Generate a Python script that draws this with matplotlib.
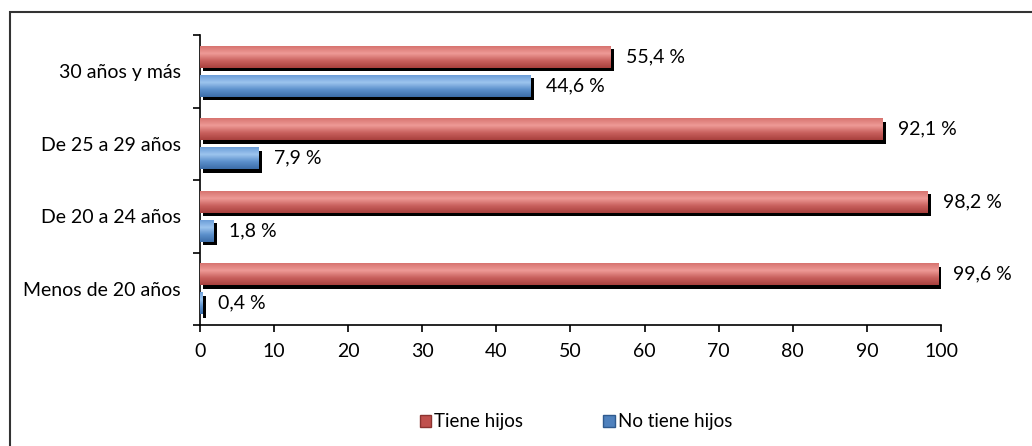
import numpy as np
import matplotlib.pyplot as plt
import matplotlib.patheffects as pe
from matplotlib.patches import Rectangle, Patch
from matplotlib.colors import LinearSegmentedColormap

plt.rcParams['font.family'] = ['Lato', 'DejaVu Sans']

categorias = ["Menos de 20 años", "De 20 a 24 años", "De 25 a 29 años", "30 años y más"]
tiene_hijos = [99.6, 98.2, 92.1, 55.4]
no_tiene_hijos = [0.4, 1.8, 7.9, 44.6]
xticks = [0, 10, 20, 30, 40, 50, 60, 70, 80, 90, 100]

rojo = "#C0504D"
azul = "#4F81BD"
cmap_rojo = LinearSegmentedColormap.from_list("r", ["#A8403D", "#C9615E", "#EE9A96", "#D77470"])
cmap_azul = LinearSegmentedColormap.from_list("b", ["#3C6DA8", "#5B8FCB", "#9CC4EE", "#6C9ED8"])

fig = plt.figure(figsize=(10.32, 4.46), dpi=100)
ax = fig.add_axes([0.1938, 0.2713, 0.7180, 0.6502])

y = np.arange(len(categorias))
h = 0.30
sombra = [pe.SimplePatchShadow(offset=(2.5, -2.5), shadow_rgbFace="black", alpha=1.0), pe.Normal()]

b1 = ax.barh(y + 0.2, tiene_hijos, height=h, color=rojo, path_effects=sombra, zorder=2)
b2 = ax.barh(y - 0.2, no_tiene_hijos, height=h, color=azul, path_effects=sombra, zorder=2)

# vertical gradient inside every bar (glossy look)
grad = np.linspace(0, 1, 64).reshape(-1, 1)
for bars, cm in [(b1, cmap_rojo), (b2, cmap_azul)]:
    for bar in bars:
        x0, y0, w, hh = bar.get_x(), bar.get_y(), bar.get_width(), bar.get_height()
        im = ax.imshow(grad, cmap=cm, aspect="auto", origin="lower",
                       extent=(x0, x0 + w, y0, y0 + hh), zorder=3)
        im.set_clip_path(bar)

for i in range(len(categorias)):
    ax.annotate(f"{tiene_hijos[i]:.1f} %".replace(".", ","), (tiene_hijos[i], y[i] + 0.2),
                xytext=(11, 0), textcoords="offset points", va="center", ha="left", fontsize=14)
    ax.annotate(f"{no_tiene_hijos[i]:.1f} %".replace(".", ","), (no_tiene_hijos[i], y[i] - 0.2),
                xytext=(11, 0), textcoords="offset points", va="center", ha="left", fontsize=14)

ax.set_xlim(0, 100)
ax.set_ylim(-0.5, len(categorias) - 0.5)
ax.set_xticks(xticks)
ax.tick_params(axis="x", labelsize=14, direction="out", length=5, width=1.2, pad=8)
ax.set_yticks(np.arange(len(categorias) + 1) - 0.5)
ax.set_yticklabels([])
ax.set_yticks(y, minor=True)
ax.set_yticklabels(categorias, minor=True, fontsize=14)
ax.tick_params(axis="y", which="major", direction="out", length=5, width=1.2)
ax.tick_params(axis="y", which="minor", length=0, pad=14)
for s in ["top", "right"]:
    ax.spines[s].set_visible(False)
ax.spines["left"].set_linewidth(1.2)
ax.spines["bottom"].set_linewidth(1.2)

handles = [Patch(facecolor=rojo, edgecolor="#8B3330"), Patch(facecolor=azul, edgecolor="#2F5A8E")]
fig.legend(handles, ["Tiene hijos", "No tiene hijos"], loc="center", bbox_to_anchor=(0.558, 0.054),
           ncol=2, frameon=False, fontsize=13.5, handlelength=0.6, handleheight=0.6,
           handletextpad=0.15, columnspacing=4.3)

fig.patches.append(Rectangle((10 / 1032, -0.1), 1.2, 1.1 - 12 / 446, transform=fig.transFigure,
                             fill=False, edgecolor="#333333", linewidth=1.5))

fig.savefig("out.png", dpi=100)
